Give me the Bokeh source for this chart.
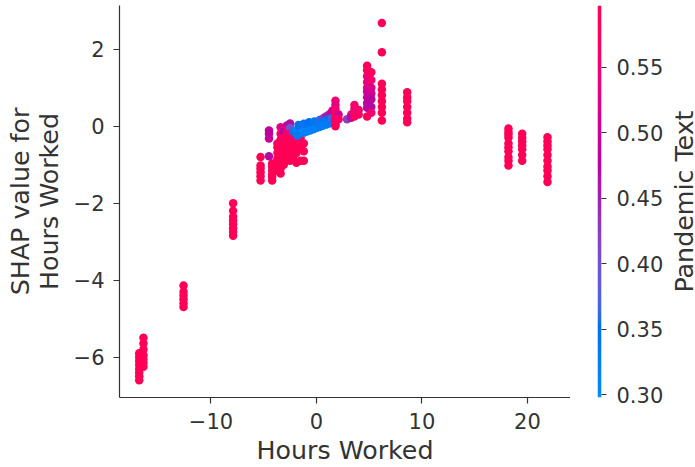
import math
import numpy as np
from bokeh.plotting import figure
from bokeh.layouts import row
from bokeh.models import (ColumnDataSource, LinearColorMapper, FixedTicker,
                          PrintfTickFormatter, Range1d)
from bokeh.embed import file_html
from bokeh.resources import INLINE

# ---- data ----
hours = [
    -16.8, -16.8, -16.8, -16.8, -16.8, -16.8, -16.8, -16.8,
    -16.4, -16.4, -16.4, -16.4, -16.4, -16.4, -16.4,
    -12.6, -12.6, -12.6, -12.6, -12.6, -12.6,
    -7.9, -7.9, -7.9, -7.9, -7.9, -7.9, -7.9, -7.9,
    -5.3, -5.3, -5.3, -5.3, -5.3, -5.3,
    -4.5, -4.5, -4.5, -4.5,
    -4.2, -4.2, -4.2, -4.2, -4.2, -4.2,
    -3.7, -3.7, -3.7, -3.7, -3.7, -3.7, -3.7,
    -3.4, -3.4, -3.4, -3.4, -3.4, -3.4, -3.4, -3.4, -3.4,
    -3.1, -3.1, -3.1, -3.1, -3.1, -3.1, -3.1,
    -2.8, -2.8, -2.8, -2.8, -2.8, -2.8, -2.8,
    -2.5, -2.5, -2.5, -2.5, -2.5, -2.5, -2.5,
    -2.2, -2.2, -2.2, -2.2, -2.2, -2.2,
    -1.9, -1.9, -1.9, -1.9, -1.9, -1.9,
    -1.5, -1.5, -1.5, -1.5, -1.5,
    -1.2, -1.2, -1.2,
    -1.8, -1.8,
    -1.2, -1.2,
    -0.9, -0.9,
    -0.6, -0.6,
    -0.3, -0.3,
    0.0, 0.0,
    0.3, 0.3,
    -1.7, -1.2, -0.7, -0.2, 0.3, 0.8, 1.3,
    0.6, 0.6, 0.6,
    0.9, 0.9, 0.9,
    1.2, 1.2, 1.2,
    1.5, 1.5, 1.5,
    1.8, 1.8, 1.8, 1.8, 1.8, 1.8, 1.8, 1.8,
    2.1, 2.1,
    2.9,
    3.3, 3.3,
    3.6, 3.6, 3.6, 3.6,
    4.0, 4.0,
    4.8, 4.8, 4.8, 4.8, 4.8, 4.8, 4.8, 4.8, 4.8, 4.8,
    5.2, 5.2, 5.2, 5.2, 5.2, 5.2, 5.2,
    6.2, 6.2, 6.2, 6.2, 6.2, 6.2, 6.2, 6.2, 6.2,
    8.6, 8.6, 8.6, 8.6, 8.6, 8.6, 8.6,
    18.2, 18.2, 18.2, 18.2, 18.2, 18.2, 18.2, 18.2, 18.2, 18.2,
    19.5, 19.5, 19.5, 19.5, 19.5, 19.5, 19.5,
    21.9, 21.9, 21.9, 21.9, 21.9, 21.9, 21.9, 21.9, 21.9, 21.9,
]
shap_value = [
    -5.9, -6.0, -6.1, -6.2, -6.3, -6.4, -6.5, -6.6,
    -5.5, -5.65, -5.8, -5.95, -6.05, -6.15, -6.25,
    -4.14, -4.3, -4.4, -4.5, -4.6, -4.7,
    -2.0, -2.2, -2.35, -2.45, -2.55, -2.65, -2.75, -2.85,
    -0.8, -1.02, -1.1, -1.2, -1.3, -1.41,
    -0.11, -0.2, -0.32, -0.78,
    -0.97, -1.05, -1.15, -1.25, -1.32, -1.41,
    -0.45, -0.55, -0.7, -0.85, -0.95, -1.05, -1.15,
    -0.03, -0.2, -0.35, -0.5, -0.65, -0.8, -0.95, -1.1, -1.23,
    -0.15, -0.3, -0.5, -0.6, -0.75, -0.9, -1.0,
    0.02, -0.1, -0.25, -0.4, -0.55, -0.7, -0.8,
    0.07, -0.05, -0.2, -0.35, -0.5, -0.65, -0.9,
    -0.14, -0.24, -0.3, -0.45, -0.6, -0.8,
    -0.12, -0.22, -0.32, -0.5, -0.7, -0.95,
    -0.09, -0.2, -0.32, -0.55, -0.9,
    -0.45, -0.65, -0.9,
    -0.12, -0.24,
    -0.06, -0.17,
    -0.03, -0.14,
    0.0, -0.11,
    0.03, -0.08,
    0.06, -0.05,
    0.09, -0.02,
    0.03, 0.06, 0.1, 0.12, 0.16, 0.22, 0.26,
    0.2, 0.12, 0.01,
    0.25, 0.15, 0.04,
    0.3, 0.18, 0.07,
    0.4, 0.21, 0.1,
    0.66, 0.55, 0.45, 0.35, 0.25, 0.15, 0.05, 0.0,
    0.3, 0.18,
    0.18,
    0.3, 0.22,
    0.55, 0.45, 0.35, 0.25,
    0.42, 0.3,
    1.57, 1.45, 1.3, 1.15, 1.0, 0.9, 0.75, 0.6, 0.48, 0.25,
    1.4, 1.2, 1.0, 0.85, 0.7, 0.5, 0.35,
    2.68, 1.92, 1.1, 0.95, 0.8, 0.65, 0.5, 0.35, 0.15,
    0.88, 0.75, 0.65, 0.5, 0.35, 0.2, 0.1,
    -0.06, -0.15, -0.22, -0.3, -0.45, -0.55, -0.65, -0.8, -0.9, -1.02,
    -0.2, -0.3, -0.4, -0.5, -0.6, -0.75, -0.9,
    -0.29, -0.4, -0.5, -0.6, -0.75, -0.9, -1.05, -1.15, -1.3, -1.45,
]
pandemic_text = [
    0.59, 0.59, 0.59, 0.59, 0.59, 0.59, 0.59, 0.59,
    0.59, 0.59, 0.59, 0.59, 0.59, 0.59, 0.59,
    0.59, 0.59, 0.59, 0.59, 0.59, 0.59,
    0.59, 0.59, 0.59, 0.59, 0.59, 0.59, 0.59, 0.59,
    0.59, 0.59, 0.59, 0.59, 0.59, 0.59,
    0.49, 0.48, 0.49, 0.47,
    0.59, 0.59, 0.59, 0.59, 0.59, 0.59,
    0.56, 0.59, 0.59, 0.59, 0.59, 0.59, 0.59,
    0.52, 0.55, 0.59, 0.59, 0.59, 0.59, 0.59, 0.59, 0.59,
    0.48, 0.57, 0.59, 0.59, 0.59, 0.59, 0.59,
    0.47, 0.55, 0.59, 0.59, 0.59, 0.59, 0.59,
    0.47, 0.40, 0.55, 0.59, 0.59, 0.59, 0.59,
    0.36, 0.34, 0.56, 0.59, 0.59, 0.59,
    0.32, 0.33, 0.57, 0.59, 0.59, 0.59,
    0.32, 0.33, 0.58, 0.59, 0.59,
    0.58, 0.59, 0.59,
    0.32, 0.33,
    0.31, 0.32,
    0.31, 0.32,
    0.31, 0.32,
    0.31, 0.32,
    0.31, 0.32,
    0.32, 0.33,
    0.35, 0.34, 0.35, 0.34, 0.36, 0.38, 0.40,
    0.42, 0.34, 0.33,
    0.45, 0.34, 0.33,
    0.46, 0.35, 0.33,
    0.50, 0.38, 0.36,
    0.55, 0.52, 0.55, 0.57, 0.59, 0.59, 0.59, 0.59,
    0.50, 0.57,
    0.42,
    0.52, 0.47,
    0.57, 0.55, 0.56, 0.58,
    0.55, 0.57,
    0.59, 0.58, 0.55, 0.53, 0.52, 0.50, 0.49, 0.48, 0.47, 0.59,
    0.58, 0.56, 0.52, 0.50, 0.48, 0.47, 0.55,
    0.59, 0.59, 0.59, 0.59, 0.59, 0.59, 0.59, 0.59, 0.59,
    0.59, 0.59, 0.59, 0.59, 0.59, 0.59, 0.59,
    0.59, 0.59, 0.59, 0.59, 0.59, 0.59, 0.59, 0.59, 0.59, 0.59,
    0.59, 0.59, 0.59, 0.59, 0.59, 0.59, 0.59,
    0.59, 0.59, 0.59, 0.59, 0.59, 0.59, 0.59, 0.59, 0.59, 0.59,
]
x_ticks = [-10, 0, 10, 20]
y_ticks = [-6, -4, -2, 0, 2]
cbar_ticks = [0.30, 0.35, 0.40, 0.45, 0.50, 0.55]
cbar_low, cbar_high = 0.298, 0.597


# ---- SHAP red_blue colormap (LCh interpolation) ----
def lch_to_hex(l, c, h):
    a = c * math.cos(h)
    b = c * math.sin(h)
    fy = (l + 16.0) / 116.0
    fx = fy + a / 500.0
    fz = fy - b / 200.0

    def finv(t):
        return t ** 3 if t ** 3 > 0.008856 else (t - 16.0 / 116.0) / 7.787

    X = 0.95047 * finv(fx)
    Y = 1.0 * finv(fy)
    Z = 1.08883 * finv(fz)
    r = 3.2406 * X - 1.5372 * Y - 0.4986 * Z
    g = -0.9689 * X + 1.8758 * Y + 0.0415 * Z
    bb = 0.0557 * X - 0.2040 * Y + 1.0570 * Z

    def gam(v):
        v = 1.055 * v ** (1 / 2.4) - 0.055 if v > 0.0031308 else 12.92 * v
        return int(round(min(max(v, 0.0), 1.0) * 255))

    return "#%02x%02x%02x" % (gam(r), gam(g), gam(bb))


blue_lch = (54.0, 70.0, 4.6588)
red_lch = (54.0, 90.0, 0.35470565 + 2 * math.pi)
l_mid = 40.0
nsteps = 100
palette = []
for i in range(nsteps):
    t = i / (nsteps - 1)
    if i < nsteps // 2:
        l = blue_lch[0] + (l_mid - blue_lch[0]) * i / (nsteps // 2 - 1)
    else:
        l = l_mid + (red_lch[0] - l_mid) * (i - nsteps // 2) / (nsteps // 2 - 1)
    c = blue_lch[1] + (red_lch[1] - blue_lch[1]) * t
    h = blue_lch[2] + (red_lch[2] - blue_lch[2]) * t
    palette.append(lch_to_hex(l, c, h))

mapper = LinearColorMapper(palette=palette, low=cbar_low, high=cbar_high)

source = ColumnDataSource(dict(x=hours, y=shap_value, c=pandemic_text))

TXT = "#333333"
FONT = "DejaVu Sans"
TICK_FS = "21px"
LAB_FS = "25.3px"


def style_label(ax):
    ax.axis_label_text_font = FONT
    ax.axis_label_text_font_size = LAB_FS
    ax.axis_label_text_font_style = "normal"
    ax.axis_label_text_color = TXT


# ---- main scatter ----
p = figure(frame_width=451, frame_height=392, output_backend="svg",
           toolbar_location=None,
           x_range=Range1d(-18.67, 24.08), y_range=Range1d(-7.05, 3.135),
           min_border_left=119, min_border_right=0, min_border_top=5,
           min_border_bottom=70)
p.outline_line_color = None
p.xgrid.visible = False
p.ygrid.visible = False

p.scatter(x="x", y="y", source=source, size=8.5,
          fill_color={"field": "c", "transform": mapper}, line_color=None)

for ax, ticks in ((p.xaxis[0], x_ticks), (p.yaxis[0], y_ticks)):
    ax.ticker = FixedTicker(ticks=ticks)
    ax.major_label_overrides = {t: str(t).replace("-", "\u2212") for t in ticks}
    ax.axis_line_color = TXT
    ax.axis_line_width = 1.2
    ax.major_tick_line_color = TXT
    ax.major_tick_line_width = 1.2
    ax.major_tick_out = 6
    ax.major_tick_in = 0
    ax.minor_tick_line_color = None
    ax.major_label_text_font = FONT
    ax.major_label_text_font_size = TICK_FS
    ax.major_label_text_color = TXT
    style_label(ax)

p.xaxis[0].axis_label = "Hours Worked"
p.xaxis[0].major_label_standoff = 9
p.xaxis[0].axis_label_standoff = 4
p.yaxis[0].major_label_standoff = 9
p.yaxis[0].axis_label = "SHAP value for\nHours Worked"
p.yaxis[0].axis_label_text_line_height = 1.0
p.yaxis[0].axis_label_standoff = 7

# ---- colour bar as its own narrow figure ----
cb = figure(frame_width=4, frame_height=392, output_backend="svg",
            toolbar_location=None, x_axis_location=None,
            y_axis_location="right",
            x_range=Range1d(0, 1), y_range=Range1d(cbar_low, cbar_high),
            min_border_left=27, min_border_right=62, min_border_top=5,
            min_border_bottom=70)
cb.outline_line_color = None
cb.xgrid.visible = False
cb.ygrid.visible = False
cb.image(image=[np.linspace(cbar_low, cbar_high, 200).reshape(-1, 1)],
         x=0, y=cbar_low, dw=1, dh=cbar_high - cbar_low, color_mapper=mapper)

cax = cb.yaxis[0]
cax.ticker = FixedTicker(ticks=cbar_ticks)
cax.formatter = PrintfTickFormatter(format="%.2f")
cax.axis_line_color = None
cax.major_tick_line_color = TXT
cax.major_tick_line_width = 1.2
cax.major_tick_out = 5
cax.major_tick_in = 0
cax.minor_tick_line_color = None
cax.major_label_standoff = 10
cax.major_label_text_font = FONT
cax.major_label_text_font_size = TICK_FS
cax.major_label_text_color = TXT

# ---- colour bar title: a tick-less left axis of a 1px-wide figure ----
lab = figure(frame_width=1, frame_height=392, output_backend="svg",
             toolbar_location=None, x_axis_location=None,
             y_axis_location="left",
             x_range=Range1d(0, 1), y_range=Range1d(0, 1),
             min_border_left=0, min_border_right=0, min_border_top=5,
             min_border_bottom=70)
lab.outline_line_color = None
lab.xgrid.visible = False
lab.ygrid.visible = False
lax = lab.yaxis[0]
lax.ticker = FixedTicker(ticks=[])
lax.axis_line_color = None
lax.major_tick_line_color = None
lax.major_tick_out = 0
lax.major_tick_in = 0
lax.minor_tick_line_color = None
lax.major_label_standoff = 0
lax.axis_label = "Pandemic Text"
lax.axis_label_standoff = 0
lax.axis_label_text_line_height = 1.0
style_label(lax)

layout = row(p, cb, lab)
open("out.html", "w").write(file_html(layout, INLINE))
